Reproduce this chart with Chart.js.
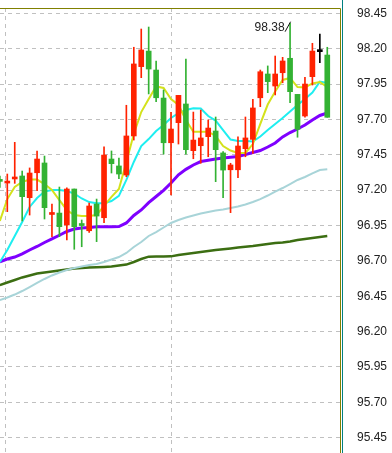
<!DOCTYPE html>
<html lang="en">
<head>
<meta charset="UTF-8">
<title>K-line</title>
<script src="https://cdn.jsdelivr.net/npm/chart.js"></script>
<style>
    html, body { margin: 0; padding: 0; background: #ffffff; }
    #wrap { width: 392px; height: 453px; }
</style>
</head>
<body>
<div id="wrap"><canvas id="kChart" width="392" height="453"></canvas></div>
<script>
// one candle per index, left to right
const opens  = [97.272, 97.250, 97.279, 97.300, 97.147, 97.323, 97.392, 97.028, 97.038, 96.954,
                97.208, 96.957, 96.913, 97.102, 97.005, 97.420, 97.371, 97.307, 97.583, 98.073,
                98.183, 98.049, 97.851, 97.535, 97.677, 97.809, 97.479, 97.514, 97.578, 97.618,
                97.463, 97.344, 97.344, 97.493, 97.559, 97.853, 98.021, 97.936, 98.030, 98.132,
                97.877, 97.724, 98.002, 98.179, 98.155];
const highs  = [97.300, 97.314, 97.538, 97.335, 97.357, 97.477, 97.441, 97.102, 97.222, 97.217,
                97.208, 96.989, 97.109, 97.137, 97.507, 97.477, 97.427, 97.800, 98.210, 98.339,
                98.353, 98.113, 97.908, 97.750, 97.870, 98.127, 97.752, 97.766, 97.696, 97.717,
                97.472, 97.390, 97.576, 97.717, 97.842, 98.049, 98.078, 98.148, 98.139, 98.380,
                97.877, 97.998, 98.238, 98.304, 98.210];
const lows   = [97.220, 97.048, 97.248, 96.982, 97.024, 97.196, 96.996, 96.871, 96.871, 96.848,
                96.782, 96.800, 96.902, 96.836, 96.970, 97.321, 97.281, 97.295, 97.554, 97.995,
                97.880, 97.825, 97.455, 97.166, 97.526, 97.455, 97.422, 97.390, 97.436, 97.260,
                97.147, 97.041, 97.288, 97.436, 97.460, 97.790, 97.889, 97.873, 97.959, 97.818,
                97.574, 97.715, 97.943, 98.101, 97.715];
const closes = [97.262, 97.260, 97.293, 97.154, 97.321, 97.420, 97.076, 97.038, 96.942, 97.208,
                96.942, 96.950, 97.088, 97.017, 97.448, 97.387, 97.314, 97.583, 98.092, 98.191,
                98.056, 97.853, 97.535, 97.632, 97.870, 97.486, 97.554, 97.569, 97.639, 97.486,
                97.342, 97.378, 97.512, 97.569, 97.781, 98.037, 97.967, 98.021, 98.113, 97.896,
                97.630, 97.950, 98.183, 98.179, 97.715];

// moving averages
const ma5  = [96.982, 97.137, 97.222, 97.258, 97.275, 97.275, 97.243, 97.201, 97.130, 97.060,
              97.024, 97.017, 97.017, 97.024, 97.088, 97.152, 97.208, 97.399, 97.597, 97.752,
              97.844, 97.933, 97.922, 97.844, 97.802, 97.696, 97.613, 97.613, 97.613, 97.583,
              97.512, 97.480, 97.463, 97.463, 97.526, 97.668, 97.805, 97.897, 97.979, 97.993,
              97.929, 97.926, 97.954, 97.964, 97.929];
const ma10 = [96.692, 96.777, 96.876, 96.975, 97.081, 97.144, 97.190, 97.201, 97.201, 97.194,
              97.176, 97.141, 97.116, 97.107, 97.107, 97.123, 97.159, 97.272, 97.399, 97.512,
              97.561, 97.618, 97.660, 97.710, 97.745, 97.766, 97.778, 97.777, 97.724, 97.692,
              97.625, 97.558, 97.547, 97.547, 97.544, 97.579, 97.625, 97.668, 97.710, 97.756,
              97.802, 97.844, 97.890, 97.967, 97.957];
const ma20 = [96.694, 96.713, 96.727, 96.749, 96.777, 96.802, 96.830, 96.855, 96.881, 96.908,
              96.925, 96.932, 96.936, 96.942, 96.942, 96.942, 96.943, 96.968, 97.021, 97.060,
              97.112, 97.155, 97.199, 97.250, 97.308, 97.347, 97.378, 97.402, 97.411, 97.420,
              97.427, 97.432, 97.438, 97.452, 97.466, 97.480, 97.505, 97.533, 97.576, 97.607,
              97.632, 97.660, 97.696, 97.728, 97.745];
const ma30 = [96.423, 96.441, 96.462, 96.487, 96.515, 96.544, 96.572, 96.597, 96.618, 96.636,
              96.650, 96.660, 96.671, 96.678, 96.692, 96.710, 96.727, 96.756, 96.798, 96.833,
              96.876, 96.904, 96.936, 96.968, 96.989, 97.007, 97.021, 97.035, 97.046, 97.056,
              97.063, 97.074, 97.084, 97.099, 97.116, 97.137, 97.162, 97.190, 97.215, 97.243,
              97.272, 97.293, 97.318, 97.342, 97.347];
const ma60 = [96.529, 96.547, 96.565, 96.583, 96.597, 96.611, 96.618, 96.625, 96.632, 96.639,
              96.646, 96.650, 96.653, 96.655, 96.657, 96.660, 96.667, 96.674, 96.692, 96.713,
              96.730, 96.731, 96.731, 96.732, 96.742, 96.749, 96.756, 96.763, 96.770, 96.777,
              96.782, 96.788, 96.795, 96.800, 96.805, 96.812, 96.819, 96.826, 96.830, 96.837,
              96.848, 96.855, 96.862, 96.869, 96.876];

const yTicks = [95.45, 95.70, 95.95, 96.20, 96.45, 96.70, 96.95, 97.20, 97.45, 97.70, 97.95, 98.20, 98.45];
const xGridAt = [0.73, 23];
const peakIndex = 39;   // candle carrying the 98.38 mark

const UP = '#ff2200', DOWN = '#33b233', FLAT = '#000000';
const candleColors = opens.map((o, i) => closes[i] > o ? UP : (closes[i] < o ? DOWN : FLAT));

const wickData = opens.map((o, i) => ({ x: i, y: [lows[i], highs[i]] }));
const bodyData = opens.map((o, i) => ({ x: i, y: [o, closes[i]] }));
const toLine = arr => arr.map((v, i) => ({ x: i, y: v }));

function maLine(data, color, width, order) {
    return {
        type: 'line', data: toLine(data), borderColor: color, borderWidth: width,
        pointRadius: 0, tension: 0, fill: false, order: order
    };
}

// frame, right separator and the peak label
const decorations = {
    id: 'decorations',
    afterDraw(chart) {
        const { ctx, chartArea: a, scales: { x, y } } = chart;
        ctx.save();
        ctx.strokeStyle = '#808000';
        ctx.lineWidth = 1;
        ctx.beginPath();
        ctx.moveTo(0, a.top + 0.5);
        ctx.lineTo(a.right + 0.5, a.top + 0.5);
        ctx.lineTo(a.right + 0.5, chart.height);
        ctx.stroke();
        ctx.strokeStyle = '#008080';
        ctx.beginPath();
        ctx.moveTo(a.right + 2.5, 0);
        ctx.lineTo(a.right + 2.5, chart.height);
        ctx.stroke();

        const px = x.getPixelForValue(peakIndex);
        const py = y.getPixelForValue(highs[peakIndex]);
        ctx.strokeStyle = '#111';
        ctx.beginPath();
        ctx.moveTo(px + 0.5, py - 1.5);
        ctx.lineTo(px - 5, py + 8.5);
        ctx.stroke();
        ctx.fillStyle = '#222';
        ctx.font = '12px "Liberation Sans", Arial, sans-serif';
        ctx.textAlign = 'right';
        ctx.textBaseline = 'alphabetic';
        ctx.fillText(highs[peakIndex].toFixed(2), px - 5.5, py + 8);
        ctx.restore();
    }
};

new Chart(document.getElementById('kChart'), {
    type: 'bar',
    data: {
        datasets: [
            { data: bodyData, backgroundColor: candleColors, barThickness: 5, grouped: false, minBarLength: 2, order: 0 },
            { data: wickData, backgroundColor: candleColors, barThickness: 1, grouped: false, order: 1 },
            maLine(ma5, '#d4e21c', 2, 2),
            maLine(ma10, '#1eeef0', 2, 3),
            maLine(ma20, '#7f00ff', 3, 4),
            maLine(ma30, '#a8d4d8', 2, 5),
            maLine(ma60, '#3c6e12', 2.5, 6)
        ]
    },
    options: {
        responsive: false,
        animation: false,
        events: [],
        layout: { padding: { top: 8, left: 0, right: 0, bottom: 0 } },
        plugins: { legend: { display: false }, tooltip: { enabled: false } },
        scales: {
            x: {
                type: 'linear', offset: false, min: 0.019, max: 45.71,
                grid: { color: '#c0c0c0', drawTicks: false, offset: false },
                border: { display: false, dash: [4, 4] },
                ticks: { display: false },
                afterBuildTicks: s => { s.ticks = xGridAt.map(v => ({ value: v })); },
                afterFit: s => { s.height = 0; s.paddingLeft = 0; s.paddingRight = 0; }
            },
            y: {
                position: 'right', min: 95.342, max: 98.4875,
                grid: { color: '#c0c0c0', drawTicks: false },
                border: { display: false, dash: [4, 4] },
                ticks: {
                    padding: 17, color: '#222',
                    font: { family: '"Liberation Sans", Arial, sans-serif', size: 12 },
                    callback: v => v.toFixed(2)
                },
                afterBuildTicks: s => { s.ticks = yTicks.map(v => ({ value: v })); },
                afterFit: s => { s.width = 52; s.paddingTop = 0; s.paddingBottom = 0; }
            }
        }
    },
    plugins: [decorations]
});
</script>
</body>
</html>
